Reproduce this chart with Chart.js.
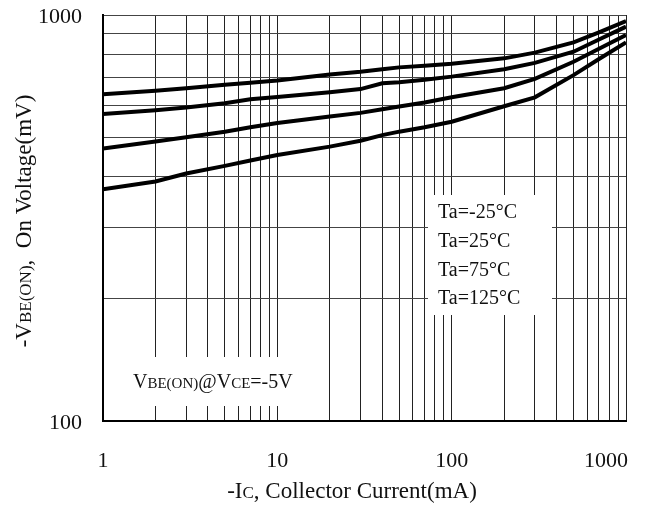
<!DOCTYPE html>
<html lang="en">
<head>
<meta charset="UTF-8">
<title>VBE(ON) vs Collector Current</title>
<script src="https://cdn.jsdelivr.net/npm/chart.js"></script>
<style>
    html, body { margin: 0; padding: 0; background: #fff; }
    #wrap { width: 666px; height: 508px; }
</style>
</head>
<body>
<div id="wrap"><canvas id="chart" width="666" height="508"></canvas></div>
<script>
// Collector current (mA) where the curves were read
const currents = [1, 2, 3, 5, 7, 10, 20, 30, 40, 50, 70, 100, 200, 300, 500, 700, 1000];
// -VBE(ON) in mV, one array per ambient temperature
const vbeM25 = [638, 651, 660, 673, 681, 690, 714, 725, 735, 743, 750, 758, 782, 808, 856, 906, 966];
const vbe25 = [570, 583, 592, 606, 620, 628, 645, 657, 679, 683, 693, 705, 735, 762, 812, 870, 936];
const vbe75 = [469, 488, 500, 516, 529, 542, 562, 574, 586, 595, 609, 627, 660, 696, 767, 826, 893];
const vbe125 = [372, 389, 407, 425, 438, 452, 474, 490, 506, 516, 529, 546, 596, 627, 711, 779, 856];
const seriesLabels = ['Ta=-25°C', 'Ta=25°C', 'Ta=75°C', 'Ta=125°C'];
const xTickLabels = [1, 10, 100, 1000];
const yTickLabels = [100, 1000];
// grid line positions
const xGrid = [1, 2, 3, 4, 5, 6, 7, 8, 9, 10, 20, 30, 40, 50, 60, 70, 80, 90,
    100, 200, 300, 400, 500, 600, 700, 800, 900, 1000];
const yGrid = [100, 200, 300, 400, 500, 600, 700, 800, 900, 1000];

const FONT = '"Liberation Serif", "Times New Roman", serif';

const toPoints = (vals) => currents.map((c, i) => ({ x: c, y: vals[i] }));

// draw text made of runs with different sizes (for the small subscripts)
const runsWidth = (ctx, runs) => runs.reduce((w, r) => {
    ctx.font = r.size + 'px ' + FONT;
    return w + ctx.measureText(r.t).width;
}, 0);

const drawRuns = (ctx, x, y, runs, align) => {
    let cx = x;
    if (align === 'center') cx = x - runsWidth(ctx, runs) / 2;
    ctx.textBaseline = 'alphabetic';
    ctx.textAlign = 'left';
    runs.forEach(r => {
        ctx.font = r.size + 'px ' + FONT;
        ctx.fillText(r.t, cx, y + (r.dy || 0));
        cx += ctx.measureText(r.t).width;
    });
};

const textPlugin = {
    id: 'textPlugin',
    beforeDatasetsDraw(chart) {
        const ctx = chart.ctx;
        const a = chart.chartArea;
        ctx.save();
        ctx.fillStyle = '#fff';
        // white boxes behind the notes
        ctx.fillRect(428, 195, 124, 120);
        ctx.fillRect(a.left + 2, 357, 214, 49);
        ctx.restore();
    },
    afterDraw(chart) {
        const ctx = chart.ctx;
        const xs = chart.scales.x;
        const ys = chart.scales.y;
        ctx.save();
        ctx.fillStyle = '#111';

        // x tick labels
        ctx.font = '22px ' + FONT;
        ctx.textBaseline = 'middle';
        xTickLabels.forEach(v => {
            const s = String(v);
            const w = ctx.measureText(s).width;
            let px = xs.getPixelForValue(v) - w / 2;
            px = Math.min(px, chart.width - 38 - w);
            ctx.textAlign = 'left';
            ctx.fillText(s, px, 461);
        });

        // y tick labels
        ctx.textAlign = 'right';
        yTickLabels.forEach(v => {
            ctx.fillText(String(v), 82, ys.getPixelForValue(v) + 2);
        });

        // axis titles
        drawRuns(ctx, 352, 498, [
            { t: '-I', size: 23 }, { t: 'C', size: 17 },
            { t: ', Collector Current(mA)', size: 23 }
        ], 'center');

        ctx.save();
        ctx.translate(31, 221);
        ctx.rotate(-Math.PI / 2);
        drawRuns(ctx, 0, 0, [
            { t: '-V', size: 23 }, { t: 'BE(ON)', size: 17 },
            { t: ',  On Voltage(mV)', size: 23 }
        ], 'center');
        ctx.restore();

        // temperature list
        ctx.font = '20px ' + FONT;
        ctx.textAlign = 'left';
        ctx.textBaseline = 'middle';
        seriesLabels.forEach((t, i) => {
            ctx.fillText(t, 438, 213 + i * 28.7);
        });

        // test condition
        drawRuns(ctx, 133, 388, [
            { t: 'V', size: 20 }, { t: 'BE(ON)', size: 15 },
            { t: '@', size: 20 }, { t: 'V', size: 20 },
            { t: 'CE', size: 15 }, { t: '=-5V', size: 20 }
        ], 'left');

        ctx.restore();
    }
};

new Chart(document.getElementById('chart').getContext('2d'), {
    type: 'line',
    data: {
        datasets: [vbeM25, vbe25, vbe75, vbe125].map((vals, i) => ({
            label: seriesLabels[i],
            data: toPoints(vals),
            borderColor: '#000',
            borderWidth: 4,
            pointRadius: 0,
            tension: 0,
            fill: false
        }))
    },
    options: {
        responsive: false,
        animation: false,
        layout: { padding: { left: 103, right: 40, top: 15, bottom: 87 } },
        plugins: { legend: { display: false }, tooltip: { enabled: false } },
        scales: {
            x: {
                type: 'logarithmic',
                min: 1,
                max: 1000,
                afterBuildTicks: (s) => { s.ticks = xGrid.map(v => ({ value: v })); },
                ticks: { display: false, autoSkip: false },
                grid: { color: '#222', lineWidth: 1, drawTicks: false },
                border: { color: '#000', width: 2 }
            },
            y: {
                type: 'logarithmic',
                min: 100,
                max: 1000,
                afterBuildTicks: (s) => { s.ticks = yGrid.map(v => ({ value: v })); },
                ticks: { display: false, autoSkip: false },
                grid: { color: '#444', lineWidth: 1, drawTicks: false },
                border: { color: '#000', width: 2 }
            }
        }
    },
    plugins: [textPlugin]
});
</script>
</body>
</html>
